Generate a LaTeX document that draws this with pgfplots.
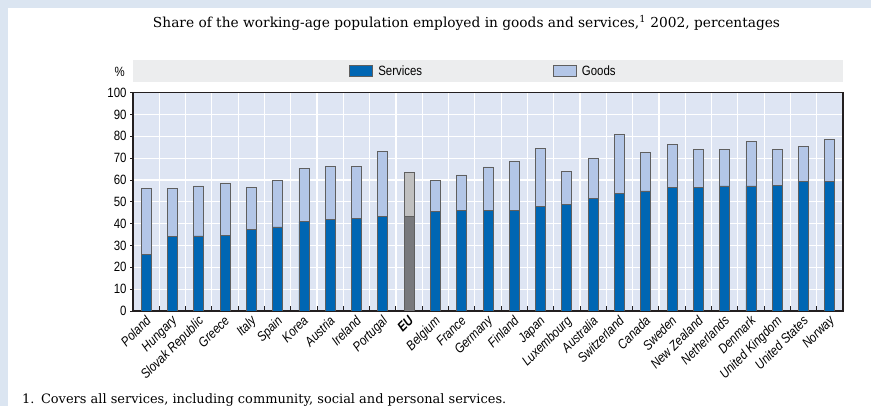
\documentclass[border=0pt]{standalone}
\usepackage{fontspec}
\usepackage{pgfplots}
\usepackage{pgfplotstable}
\pgfplotsset{compat=1.18}
\setmainfont{DejaVu Serif}
\newfontfamily\cond{Liberation Sans}[FakeStretch=0.85]
\definecolor{framebg}{RGB}{219,229,241}
\definecolor{plotbg}{RGB}{222,229,243}
\definecolor{bandbg}{RGB}{236,237,238}
\definecolor{serv}{RGB}{0,102,179}
\definecolor{goods}{RGB}{179,198,231}
\definecolor{eudark}{RGB}{120,121,125}
\definecolor{eulight}{RGB}{192,192,192}
\definecolor{edge}{RGB}{95,95,95}
\definecolor{axisdark}{RGB}{35,31,32}

\pgfplotstableread{
idx serv goods eus eug
0  26.0 30.2 0 0
1  34.0 22.2 0 0
2  34.4 22.9 0 0
3  34.8 23.8 0 0
4  37.3 19.3 0 0
5  38.5 21.3 0 0
6  40.9 24.4 0 0
7  41.8 24.6 0 0
8  42.3 24.1 0 0
9  43.5 29.5 0 0
10 0    0    43.5 20.2
11 45.6 14.2 0 0
12 46.1 16.2 0 0
13 46.1 19.9 0 0
14 46.1 22.3 0 0
15 47.9 26.6 0 0
16 48.9 14.9 0 0
17 51.6 18.2 0 0
18 54.0 26.9 0 0
19 55.0 17.5 0 0
20 56.6 19.7 0 0
21 56.6 17.3 0 0
22 57.3 16.6 0 0
23 57.3 20.4 0 0
24 57.7 16.2 0 0
25 59.5 15.8 0 0
26 59.5 19.1 0 0
}\datatable

\begin{document}
\begin{tikzpicture}
\clip (0bp,0bp) rectangle (871bp,406bp);
\fill[framebg] (0bp,0bp) rectangle (871bp,406bp);
\fill[white] (8bp,0bp) rectangle (871bp,398bp);
\fill[bandbg] (133bp,324bp) rectangle (843bp,346bp);
\node[anchor=base, inner sep=0pt, font=\fontsize{13.8}{16}\selectfont] at (466.5bp,378bp)
  {Share of the working-age population employed in goods and services,\textsuperscript{1} 2002, percentages};
\node[anchor=base west, inner sep=0pt, font=\fontsize{13.0}{14}\selectfont] at (22bp,3bp)
  {1.\enspace Covers all services, including community, social and personal services.};
\node[anchor=base east, inner sep=0pt, font=\cond\fontsize{13.5}{14}\selectfont] at (125bp,329bp) {\%};
\begin{axis}[
  at={(133bp,95bp)}, anchor=south west,
  width=710bp, height=218.3bp, scale only axis,
  ybar stacked, bar width=10bp,
  xmin=-0.5, xmax=26.5, ymin=0, ymax=100,
  xtick={0,...,26},
  xticklabels={Poland,Hungary,Slovak Republic,Greece,Italy,Spain,Korea,Austria,Ireland,Portugal,\bfseries EU,Belgium,France,Germany,Finland,Japan,Luxembourg,Australia,Switzerland,Canada,Sweden,New Zealand,Netherlands,Denmark,United Kingdom,United States,Norway},
  minor xtick={0.5,1.5,...,25.5},
  ytick={0,10,...,100},
  xminorgrids, ymajorgrids,
  grid style={white, line width=1.2bp},
  axis background/.style={fill=plotbg},
  axis line style={line width=1.3bp, axisdark},
  xtick pos=bottom, ytick pos=left,
  major x tick style={draw=none},
  minor x tick style={line width=1bp, axisdark},
  xtick align=inside, ytick align=outside,
  minor tick length=5bp, major tick length=3bp,
  ytick style={line width=0.8bp, axisdark},
  /pgf/number format/assume math mode=true,
  yticklabel style={font=\cond\fontsize{13.5}{14}\selectfont, xshift=0bp},
  xticklabel style={font=\cond\itshape\fontsize{13.5}{14}\selectfont, rotate=45, anchor=north east, inner sep=1bp, xshift=-2.7bp, yshift=-0.6bp},
  legend columns=2,
  legend style={at={(axis description cs:0.4937,1.0994)}, anchor=center, draw=none, fill=none,
    font=\cond\fontsize{13.5}{14}\selectfont,
    /tikz/every odd column/.append style={column sep=3bp},
    /tikz/every even column/.append style={column sep=129bp}},
  legend image code/.code={\draw[#1, line width=0.8bp] (0bp,-5.5bp) rectangle (23bp,5.5bp);},
  every axis plot/.append style={line width=0.8bp},
]
\addplot[fill=serv, draw=edge] table[x=idx, y=serv] {\datatable};
\addplot[fill=goods, draw=edge] table[x=idx, y=goods] {\datatable};
\addplot[fill=eudark, draw=edge] table[x=idx, y=eus] {\datatable};
\addplot[fill=eulight, draw=edge] table[x=idx, y=eug] {\datatable};
\legend{Services,Goods}
\end{axis}
\end{tikzpicture}
\end{document}
